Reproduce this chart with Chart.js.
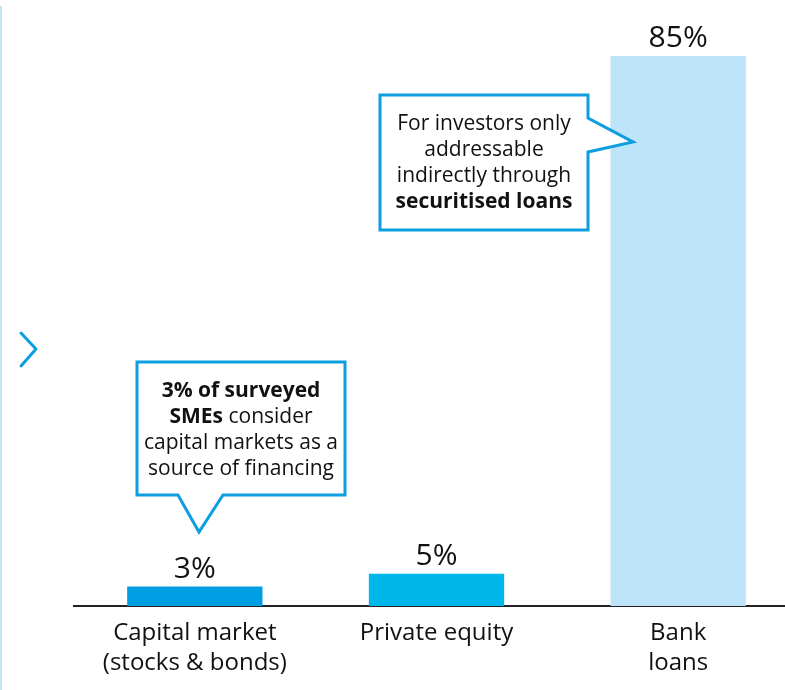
<!DOCTYPE html>
<html>
<head>
<meta charset="utf-8">
<script src="https://cdn.jsdelivr.net/npm/chart.js@4"></script>
<style>
  html, body { margin: 0; padding: 0; background: #fff; overflow: hidden; }
  #wrap { width: 785px; height: 690px; overflow: hidden; }
</style>
</head>
<body>
<div id="wrap"><canvas id="myChart" width="800" height="690"></canvas></div>
<script>
const categories = [['Capital market', '(stocks & bonds)'], ['Private equity'], ['Bank', 'loans']]
const shares = [3, 5, 85]
const barColors = ['#009fe3', '#00b7eb', '#bde4f8']

const FONT = '"Open Sans", "Noto Sans", sans-serif'
const BLUE = '#0d9ee0'

// callout texts, each line is a list of [text, bold] runs
const noteLoans = [
    [['For investors only', false]],
    [['addressable', false]],
    [['indirectly through', false]],
    [['securitised loans', true]],
]
const noteMarkets = [
    [['3% of surveyed', true]],
    [['SMEs', true], [' consider', false]],
    [['capital markets as a', false]],
    [['source of financing', false]],
]

function runFont(bold, size) {
    return (bold ? 'bold ' : '') + size + 'px ' + FONT
}

function drawLines(ctx, lines, cx, y0, step, size) {
    ctx.fillStyle = '#111'
    ctx.textAlign = 'left'
    ctx.textBaseline = 'alphabetic'
    lines.forEach((runs, i) => {
        var total = 0
        runs.forEach(r => { ctx.font = runFont(r[1], size); total += ctx.measureText(r[0]).width })
        var x = cx - total / 2
        runs.forEach(r => {
            ctx.font = runFont(r[1], size)
            ctx.fillText(r[0], x, y0 + i * step)
            x += ctx.measureText(r[0]).width
        })
    })
}

function bubble(ctx, pts) {
    ctx.beginPath()
    pts.forEach((p, i) => i ? ctx.lineTo(p[0], p[1]) : ctx.moveTo(p[0], p[1]))
    ctx.closePath()
    ctx.fillStyle = '#fff'
    ctx.fill()
    ctx.lineWidth = 3
    ctx.lineJoin = 'miter'
    ctx.strokeStyle = BLUE
    ctx.stroke()
}

const decor = {
    id: 'decor',
    beforeDraw(chart) {
        const ctx = chart.ctx
        ctx.save()
        // thin rule on the left edge
        ctx.fillStyle = '#bfe6f8'
        ctx.fillRect(0, 6, 2, 690)
        // chevron
        ctx.beginPath()
        ctx.moveTo(21, 333)
        ctx.lineTo(36, 349)
        ctx.lineTo(21, 366)
        ctx.lineWidth = 3
        ctx.lineCap = 'round'
        ctx.lineJoin = 'round'
        ctx.strokeStyle = '#0a9fe0'
        ctx.stroke()
        ctx.restore()
    },
    afterDatasetsDraw(chart) {
        const ctx = chart.ctx
        ctx.save()
        ctx.font = '30px ' + FONT
        ctx.fillStyle = '#111'
        ctx.textAlign = 'center'
        ctx.textBaseline = 'alphabetic'
        chart.getDatasetMeta(0).data.forEach((bar, i) => {
            ctx.fillText(shares[i] + '%', bar.x, bar.y - 9)
        })
        ctx.restore()
    },
    afterDraw(chart) {
        const ctx = chart.ctx
        ctx.save()
        bubble(ctx, [[380, 95], [588, 95], [588, 118], [633, 142], [588, 152], [588, 230], [380, 230]])
        drawLines(ctx, noteLoans, 484, 130, 26, 21)
        bubble(ctx, [[137, 362], [345, 362], [345, 495], [223, 495], [199, 532], [178, 495], [137, 495]])
        drawLines(ctx, noteMarkets, 241, 397, 26, 21)
        ctx.restore()
    }
}

new Chart(document.getElementById('myChart'), {
    type: 'bar',
    data: {
        labels: categories,
        datasets: [{
            data: shares,
            backgroundColor: barColors,
            categoryPercentage: 1,
            barPercentage: 0.56,
        }]
    },
    options: {
        responsive: false,
        animation: false,
        layout: { padding: { top: 56, left: 74, right: 1, bottom: 0 } },
        plugins: { legend: { display: false }, tooltip: { enabled: false } },
        scales: {
            x: {
                grid: { display: true, drawOnChartArea: false, drawTicks: false },
                border: { display: true, color: '#222', width: 2 },
                ticks: { color: '#111', padding: 12, font: { family: FONT, size: 24, lineHeight: 30 / 24 } }
            },
            y: { display: false, min: 0, max: 85 }
        }
    },
    plugins: [decor]
})
</script>
</body>
</html>
